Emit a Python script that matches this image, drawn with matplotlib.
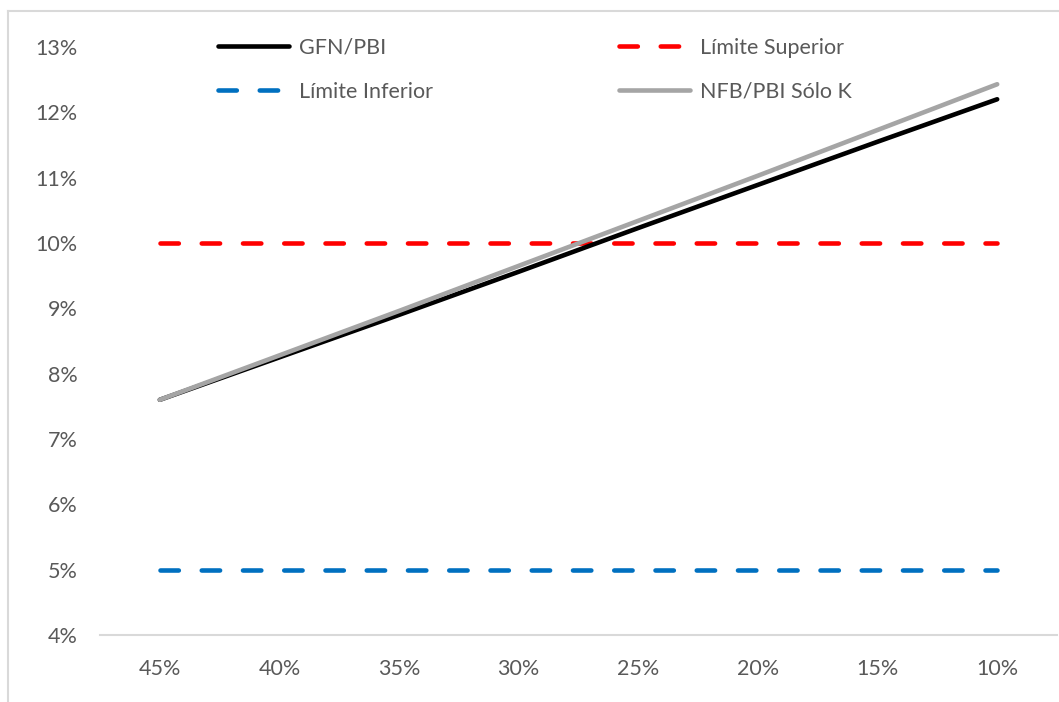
import matplotlib
matplotlib.use("Agg")
import matplotlib.pyplot as plt
from matplotlib.lines import Line2D

categories = ["45%", "40%", "35%", "30%", "25%", "20%", "15%", "10%"]
gfn_pbi = [7.60, 8.25, 8.90, 9.56, 10.23, 10.89, 11.55, 12.20]
lim_sup = [10.0] * 8
lim_inf = [5.0] * 8
nfb_pbi = [7.60, 8.28, 8.96, 9.65, 10.34, 11.03, 11.73, 12.43]
yticks = [4, 5, 6, 7, 8, 9, 10, 11, 12, 13]

plt.rcParams['font.family'] = ['Lato', 'DejaVu Sans']
W, H = 1059, 702
fig = plt.figure(figsize=(W / 100, H / 100), dpi=100)
ax = fig.add_axes([100 / W, 1 - 635 / H, (1057 - 100) / W, (635 - 47) / H])

x = list(range(len(categories)))
lw = 3.3
dash = (4.0, 5.0)
ax.plot(x, gfn_pbi, color="#000000", lw=lw, solid_capstyle="round", label="GFN/PBI", zorder=3)
ax.plot(x, lim_sup, color="#FF0000", lw=lw, ls=(0, dash), dash_capstyle="round", label="Límite Superior", zorder=2)
ax.plot(x, lim_inf, color="#0070C0", lw=lw, ls=(0, dash), dash_capstyle="round", label="Límite Inferior", zorder=2)
ax.plot(x, nfb_pbi, color="#A5A5A5", lw=lw, solid_capstyle="round", label="NFB/PBI Sólo K", zorder=4)

fs = 15.5
ax.set_xlim(-0.5, len(categories) - 0.5)
ax.set_ylim(4, 13)
ax.set_yticks(yticks)
ax.set_yticklabels([f"{v}%" for v in yticks])
ax.set_xticks(x)
ax.set_xticklabels(categories)
ax.tick_params(axis="both", length=0, labelsize=fs, colors="#595959")
ax.tick_params(axis="y", pad=16)
ax.tick_params(axis="x", pad=17)
for s in ["top", "right", "left"]:
    ax.spines[s].set_visible(False)
ax.spines["bottom"].set_color("#D9D9D9")
ax.spines["bottom"].set_linewidth(1.5)

h = {l.get_label(): l for l in ax.get_lines()}
order = ["GFN/PBI", "Límite Inferior", "Límite Superior", "NFB/PBI Sólo K"]
leg = ax.legend([h[k] for k in order], order, ncol=2, loc="upper left",
                bbox_to_anchor=(218 / W, 1 - 38 / H), bbox_transform=fig.transFigure,
                frameon=False, fontsize=fs, handlelength=3.3, handletextpad=0.45,
                columnspacing=8.65, labelspacing=1.1, borderaxespad=0, borderpad=0)
for t in leg.get_texts():
    t.set_color("#595959")

# chart area border (top and left visible)
fig.add_artist(Line2D([8 / W, 1], [1 - 11 / H, 1 - 11 / H], color="#D9D9D9", lw=1.5, transform=fig.transFigure))
fig.add_artist(Line2D([8 / W, 8 / W], [0, 1 - 11 / H], color="#D9D9D9", lw=1.5, transform=fig.transFigure))

fig.savefig("out.png", dpi=100)
